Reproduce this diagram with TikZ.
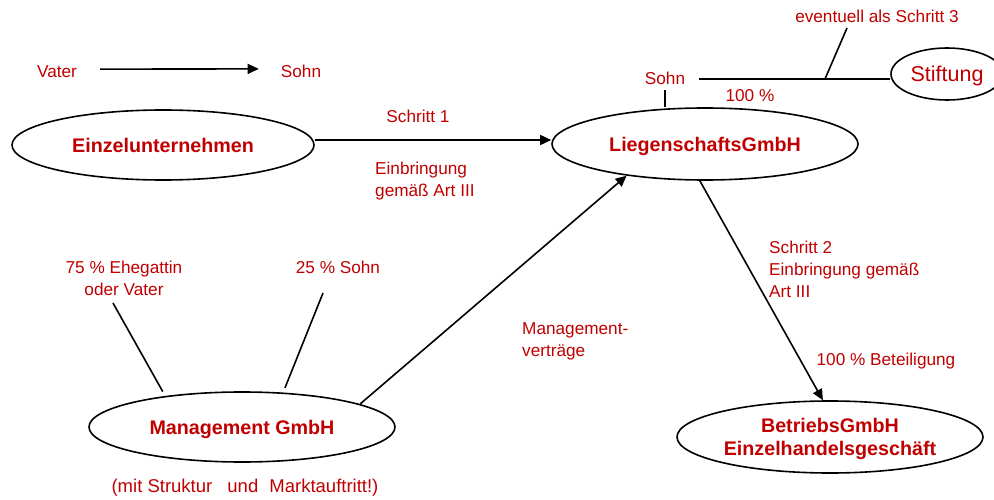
\documentclass[tikz,border=0pt]{standalone}
\usepackage{fontspec}
\setmainfont{Liberation Sans}
\usetikzlibrary{shapes.geometric,arrows.meta}
\definecolor{dred}{RGB}{192,0,0}
\begin{document}
\begin{tikzpicture}[x=1pt,y=-1pt,
  lbl/.style={text=dred,font=\fontsize{17.2}{22}\selectfont,inner sep=0pt},
  firm/.style={ellipse,draw,line width=1.6pt,inner sep=0pt,text=dred,
    font=\bfseries\fontsize{19.7}{23}\selectfont,text depth=0pt,align=center},
  ln/.style={line width=1.6pt},
  arr/.style={ln,-{Triangle[length=11pt,width=10pt]}}]
\useasboundingbox (0,0) rectangle (994,500);
\clip (0,0) rectangle (994,500);

% companies
\node[firm,minimum width=302pt,minimum height=70pt] (einzel) at (163,145) {Einzelunternehmen};
\node[firm,minimum width=306pt,minimum height=72pt] (liegen) at (705,144) {LiegenschaftsGmbH};
\node[firm,minimum width=306pt,minimum height=70pt] (mgmt) at (242,427) {Management GmbH};
\node[firm,minimum width=306pt,minimum height=72pt] (betr) at (830,437) {BetriebsGmbH\\Einzelhandelsgeschäft};
\node[firm,minimum width=112pt,minimum height=52pt,font=\fontsize{21.5}{25}\selectfont] (stift) at (947,74) {Stiftung};

% labels
\node[lbl,anchor=base] (vater) at (57,78) {Vater};
\node[lbl,anchor=base] (sohnA) at (301,78) {Sohn};
\node[lbl,anchor=base] (schritt1) at (418,123) {Schritt 1};
\node[lbl,anchor=north west,align=left] (einbr) at (375,162) {Einbringung\\gemäß Art III};
\node[lbl,anchor=base] (sohnB) at (665,85) {Sohn};
\node[lbl,anchor=base] (hundert) at (750,102) {100 \%};
\node[lbl,anchor=base] (evtl) at (877,23) {eventuell als Schritt 3};
\node[lbl,anchor=north,align=center] (ehe) at (124,261) {75 \% Ehegattin\\oder Vater};
\node[lbl,anchor=north] (sohnC) at (338,261) {25 \% Sohn};
\node[lbl,anchor=north west,align=left] (mv) at (522,322) {Management-\\verträge};
\node[lbl,anchor=north west,align=left] (schritt2) at (769,241) {Schritt 2\\Einbringung gemäß\\Art III};
\node[lbl,anchor=base] (beteil) at (886,365) {100 \% Beteiligung};
\node[lbl,anchor=base,font=\fontsize{18.5}{22}\selectfont] (mit) at (245,492)
  {(mit Struktur\hspace{10pt} und\hspace{6pt} Marktauftritt!)};

% connectors
\draw[arr,shorten <=23pt,shorten >=22pt] ([yshift=3pt]vater.east) -- ([yshift=3pt]sohnA.west);
\draw[arr] ([yshift=5pt]einzel.east) -- ([yshift=4pt]liegen.west);
\draw[ln] ([yshift=-5pt]sohnB.south) -- (sohnB.south |- liegen.north);
\draw[ln] ([xshift=14pt]sohnB.east) -- (sohnB.east -| stift.west);
\coordinate (cb) at (825,79);
\draw[ln] (cb) -- ([xshift=-30pt,yshift=-5pt]evtl.base);
\draw[arr] (mgmt.11) -- (liegen.202);
\draw[arr] (liegen.262) -- (betr.101);
\draw[ln,shorten >=5pt] ([xshift=-11pt,yshift=-7pt]ehe.south) -- (mgmt.158);
\draw[ln,shorten >=5pt] ([xshift=-15pt,yshift=-19pt]sohnC.south) -- (mgmt.40);
\end{tikzpicture}
\end{document}
